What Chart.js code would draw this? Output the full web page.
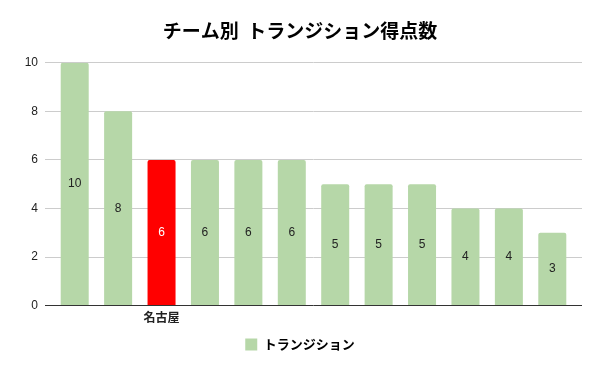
<!DOCTYPE html>
<html>
<head>
<meta charset="utf-8">
<script src="https://cdn.jsdelivr.net/npm/chart.js@4/dist/chart.umd.min.js"></script>
<style>
  html, body { margin: 0; padding: 0; background: #fff; }
  #wrap { width: 600px; height: 371px; }
</style>
</head>
<body>
<div id="wrap"><canvas id="myChart" width="600" height="371"></canvas></div>
<script>
var teams = ['', '', '名古屋', '', '', '', '', '', '', '', '', ''];
var points = [10, 8, 6, 6, 6, 6, 5, 5, 5, 4, 4, 3];
var yTicks = [0, 2, 4, 6, 8, 10];
var highlight = '名古屋';

var green = '#b6d7a8';
var red = '#ff0000';
var jpFont = '"Noto Sans CJK JP", "Noto Sans", sans-serif';

// 棒の中央に値を書く
var valueLabels = {
    id: 'valueLabels',
    afterDatasetsDraw: function(chart) {
        var ctx = chart.ctx;
        var meta = chart.getDatasetMeta(0);
        ctx.save();
        ctx.font = '12px Arial, "Liberation Sans", sans-serif';
        ctx.textAlign = 'center';
        ctx.textBaseline = 'middle';
        meta.data.forEach(function(bar, i) {
            var p = bar.getProps(['x', 'y', 'base'], true);
            ctx.fillStyle = teams[i] === highlight ? '#ffffff' : '#222222';
            ctx.fillText(points[i], p.x, (p.y + p.base) / 2);
        });
        ctx.restore();
    }
};

var gridColor = function(c) {
    return c.tick && c.tick.value === 0 ? '#333333' : '#cccccc';
};

var ctx = document.getElementById('myChart').getContext('2d');
var myChart = new Chart(ctx, {
    type: 'bar',
    data: {
        labels: teams,
        datasets: [{
            label: 'トランジション',
            data: points,
            backgroundColor: teams.map(function(t) { return t === highlight ? red : green; }),
            borderRadius: 2,
            borderSkipped: 'bottom',
            barPercentage: 0.645,
            categoryPercentage: 1
        }]
    },
    options: {
        responsive: false,
        animation: false,
        layout: { padding: { top: 0, bottom: 10, left: 0, right: 0 } },
        scales: {
            x: {
                afterFit: function(s) { s.height += 4; },
                grid: { display: false },
                border: { display: false },
                ticks: {
                    color: '#222',
                    padding: -3,
                    autoSkip: false,
                    maxRotation: 0,
                    font: { family: jpFont, size: 12, weight: 'bold' }
                }
            },
            y: {
                position: 'left',
                min: 0,
                max: 10,
                afterBuildTicks: function(s) { s.ticks = yTicks.map(function(v) { return { value: v }; }); },
                afterFit: function(s) { s.width = 53; },
                border: { display: false },
                grid: { color: gridColor, tickLength: 8, lineWidth: 1 },
                ticks: {
                    color: '#222',
                    padding: 7,
                    font: { family: 'Arial, "Liberation Sans", sans-serif', size: 12 }
                }
            },
            y2: {
                position: 'right',
                min: 0,
                max: 10,
                afterBuildTicks: function(s) { s.ticks = yTicks.map(function(v) { return { value: v }; }); },
                afterFit: function(s) { s.width = 26; },
                border: { display: false },
                grid: { color: gridColor, tickLength: 8, drawOnChartArea: false },
                ticks: { color: 'rgba(0,0,0,0)', padding: 0 }
            }
        },
        plugins: {
            title: {
                display: true,
                text: 'チーム別  トランジション得点数',
                color: '#000',
                padding: { top: 19, bottom: 21 },
                font: { family: jpFont, size: 19, weight: 'bold' }
            },
            legend: {
                position: 'bottom',
                labels: {
                    color: '#222',
                    boxWidth: 12,
                    boxHeight: 12,
                    padding: 12,
                    font: { family: jpFont, size: 13, weight: 'bold' },
                    generateLabels: function() {
                        return [{ text: 'トランジション', fillStyle: green, strokeStyle: green, lineWidth: 0 }];
                    }
                }
            },
            tooltip: { enabled: false }
        }
    },
    plugins: [valueLabels]
});
</script>
</body>
</html>
